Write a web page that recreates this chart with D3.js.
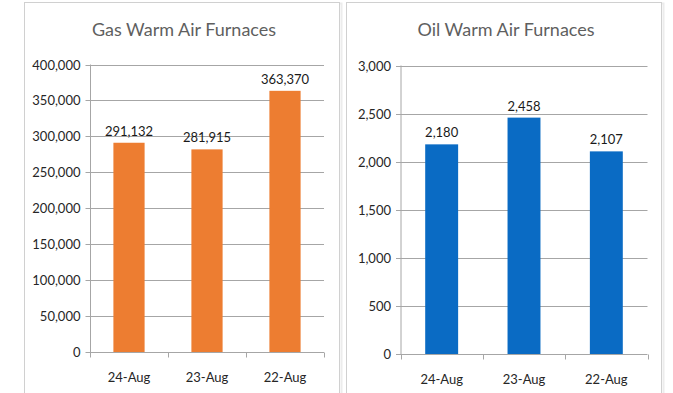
<!DOCTYPE html>
<html>
<head>
<meta charset="utf-8">
<script src="https://cdn.jsdelivr.net/npm/d3@7"></script>
<style>
  html, body { margin: 0; padding: 0; background: #ffffff; }
  svg { display: block; }
  text { font-family: Lato, "Open Sans", sans-serif; }
</style>
</head>
<body>
<svg id="chart" width="673" height="393"></svg>
<script>
// Shipment counts by month, gas and oil furnaces
const categories = ["24-Aug", "23-Aug", "22-Aug"];
const gasValues = [291132, 281915, 363370];
const oilValues = [2180, 2458, 2107];
const gasTicks = [0, 50000, 100000, 150000, 200000, 250000, 300000, 350000, 400000];
const oilTicks = [0, 500, 1000, 1500, 2000, 2500, 3000];

const svg = d3.select("#chart");
const fmt = d3.format(",");

const panels = [
  {
    title: "Gas Warm Air Furnaces",
    values: gasValues, ticks: gasTicks, max: 400000, color: "#ED7D31",
    box: { x0: 24, x1: 340 },
    plot: { left: 90, right: 324, top: 64.5, bottom: 352 }
  },
  {
    title: "Oil Warm Air Furnaces",
    values: oilValues, ticks: oilTicks, max: 3000, color: "#0A6BC4",
    box: { x0: 346, x1: 662 },
    plot: { left: 400.5, right: 647.5, top: 65.5, bottom: 354 }
  }
];

panels.forEach(p => {
  const g = svg.append("g");

  // panel frame with a soft shadow line
  g.append("rect")
    .attr("x", p.box.x0 + 1.5).attr("y", 3.5)
    .attr("width", p.box.x1 - p.box.x0).attr("height", 400)
    .attr("fill", "none").attr("stroke", "#ececec").attr("stroke-width", 2);
  g.append("rect")
    .attr("x", p.box.x0 + 0.5).attr("y", 2.5)
    .attr("width", p.box.x1 - p.box.x0 - 1).attr("height", 400)
    .attr("fill", "#ffffff").attr("stroke", "#d0d0d0").attr("stroke-width", 1);

  g.append("text")
    .attr("x", (p.box.x0 + p.box.x1) / 2 + 2)
    .attr("y", 36)
    .attr("text-anchor", "middle")
    .attr("font-size", 18)
    .attr("fill", "#5f5f5f")
    .text(p.title);

  const x = d3.scaleBand()
    .domain(categories)
    .range([p.plot.left, p.plot.right])
    .paddingInner(0.6).paddingOuter(0.3);
  const y = d3.scaleLinear()
    .domain([0, p.max])
    .range([p.plot.bottom, p.plot.top]);

  // horizontal gridlines
  g.append("g").selectAll("line")
    .data(p.ticks.filter(t => t > 0))
    .join("line")
    .attr("x1", p.plot.left).attr("x2", p.plot.right)
    .attr("y1", d => Math.round(y(d)) + 0.5).attr("y2", d => Math.round(y(d)) + 0.5)
    .attr("stroke", "#a6a6a6").attr("stroke-width", 1);

  // y axis
  const yAxis = d3.axisLeft(y).tickValues(p.ticks).tickFormat(fmt).tickSize(6).tickPadding(4);
  const ya = g.append("g")
    .attr("transform", `translate(${p.plot.left + 0.5},0)`)
    .call(yAxis);
  ya.select(".domain").attr("stroke", "#a6a6a6").attr("d", `M0,${p.plot.top}V${p.plot.bottom + 0.5}`);
  ya.selectAll(".tick line").attr("stroke", "#a6a6a6").attr("x1", -5).attr("x2", 0);
  ya.selectAll(".tick").attr("transform", d => `translate(0,${Math.round(y(d)) + 0.5})`);
  ya.selectAll(".tick text")
    .attr("font-size", 13).attr("fill", "#262626")
    .attr("font-family", "Lato, sans-serif");

  // bars
  g.append("g").selectAll("rect")
    .data(p.values)
    .join("rect")
    .attr("x", (d, i) => x(categories[i]))
    .attr("width", x.bandwidth())
    .attr("y", d => y(d))
    .attr("height", d => y(0) - y(d))
    .attr("fill", p.color);

  // value labels
  g.append("g").selectAll("text")
    .data(p.values)
    .join("text")
    .attr("x", (d, i) => x(categories[i]) + x.bandwidth() / 2)
    .attr("y", d => y(d) - 7)
    .attr("text-anchor", "middle")
    .attr("font-size", 13)
    .attr("fill", "#1a1a1a")
    .text(d => fmt(d));

  // x axis with category separators
  const base = Math.round(y(0)) + 0.5;
  g.append("line")
    .attr("x1", p.plot.left).attr("x2", p.plot.right)
    .attr("y1", base).attr("y2", base)
    .attr("stroke", "#a6a6a6");
  const step = x.step();
  const edges = d3.range(categories.length + 1).map(i => p.plot.left + (p.plot.right - p.plot.left) * i / categories.length);
  g.append("g").selectAll("line")
    .data(edges)
    .join("line")
    .attr("x1", d => Math.round(d) + 0.5).attr("x2", d => Math.round(d) + 0.5)
    .attr("y1", base).attr("y2", base + 5)
    .attr("stroke", "#a6a6a6");
  g.append("g").selectAll("text")
    .data(categories)
    .join("text")
    .attr("x", d => x(d) + x.bandwidth() / 2)
    .attr("y", base + 29)
    .attr("text-anchor", "middle")
    .attr("font-size", 13)
    .attr("fill", "#262626")
    .text(d => d);
});
</script>
</body>
</html>
